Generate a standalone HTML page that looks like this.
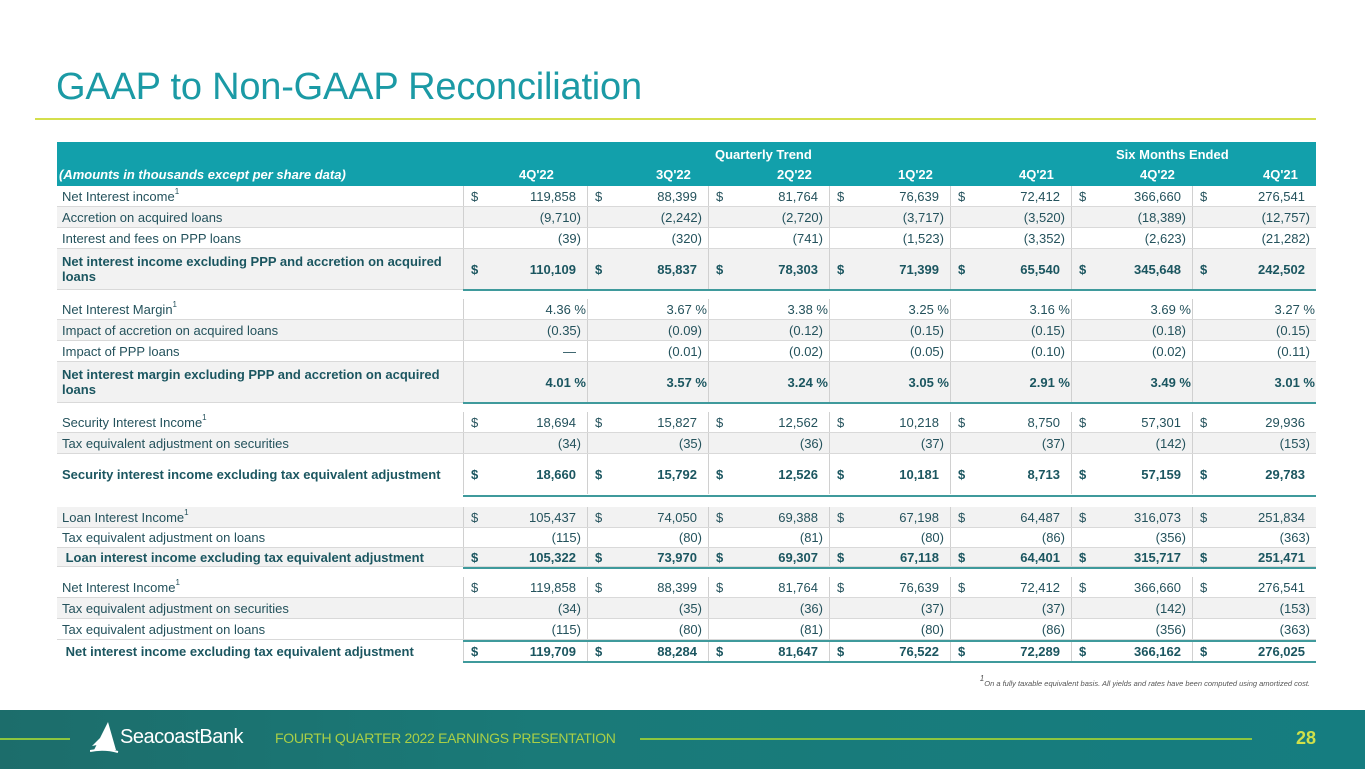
<!DOCTYPE html>
<html><head><meta charset="utf-8"><style>
*{margin:0;padding:0;box-sizing:border-box}
body{width:1365px;height:769px;position:relative;background:#fff;font-family:"Liberation Sans",sans-serif;overflow:hidden;color:#24525c}
.title{position:absolute;left:56px;top:66px;font-size:38px;color:#1b9aa5;letter-spacing:-0.2px}
.yl{position:absolute;left:35px;top:118px;width:1281px;height:2px;background:#d4df4c}
.hdr{position:absolute;left:57px;top:142px;width:1259px;height:44px;background:#12a0ab;color:#fff;font-size:13px;font-weight:bold}
.hdr span{position:absolute}
.row{position:absolute;left:57px;width:1259px;display:grid;grid-template-columns:406px 124px 121px 121px 121px 121px 121px 124px;font-size:13px;border-bottom:1px solid #d9d9d9}
.row>div{display:flex;align-items:center;justify-content:space-between;padding:0 6px 0 7px;border-left:1px solid #d0d0d0;white-space:nowrap}
.row>div:first-child{border-left:none;padding-left:5px;white-space:normal;line-height:15px;display:flex;justify-content:flex-start}
.g{background:#f2f2f2}
.b{font-weight:bold;color:#1b5660}
.p{padding-right:5px}
.row>div.pc{justify-content:flex-end;padding-right:1px}
sup{font-size:8px;vertical-align:top;line-height:0;position:relative;top:3px}
.tl{position:absolute;left:463px;width:853px;height:2px;background:#3f9a9c}
.fn{position:absolute;right:55px;top:679px;font-size:7.5px;font-style:italic;color:#555;white-space:nowrap}
.foot{position:absolute;left:0;top:710px;width:1365px;height:59px;background:linear-gradient(90deg,#1c6d6b,#1a7a78 40%,#157d80)}
.foot .l1{position:absolute;left:0;top:28px;width:70px;height:2px;background:#8dc63f}
.foot .l2{position:absolute;left:640px;top:28px;width:612px;height:2px;background:#8dc63f}
.foot .t{position:absolute;left:275px;top:20px;font-size:14px;color:#a9cf46;letter-spacing:-0.3px}
.foot .n{position:absolute;left:1296px;top:18px;font-size:18px;font-weight:bold;color:#cfe04a}
.foot .lg{position:absolute;left:120px;top:16px;font-size:20px;color:#fff;letter-spacing:-0.5px}
</style></head><body>
<div class="title">GAAP to Non-GAAP Reconciliation</div>
<div class="yl"></div>
<div class="hdr">
<span style="left:658px;top:5px">Quarterly Trend</span>
<span style="left:1059px;top:5px">Six Months Ended</span>
<span style="left:2px;top:25px;font-style:italic">(Amounts in thousands except per share data)</span>
<span style="left:462px;top:25px">4Q'22</span>
<span style="left:599px;top:25px">3Q'22</span>
<span style="left:720px;top:25px">2Q'22</span>
<span style="left:841px;top:25px">1Q'22</span>
<span style="left:962px;top:25px">4Q'21</span>
<span style="left:1083px;top:25px">4Q'22</span>
<span style="left:1206px;top:25px">4Q'21</span>
</div>

<div class="row" style="top:186px;height:21px"><div><span>Net Interest income<sup>1</sup></span></div><div>$<span class="p">119,858</span></div><div>$<span class="p">88,399</span></div><div>$<span class="p">81,764</span></div><div>$<span class="p">76,639</span></div><div>$<span class="p">72,412</span></div><div>$<span class="p">366,660</span></div><div>$<span class="p">276,541</span></div></div>
<div class="row g" style="top:207px;height:21px"><div>Accretion on acquired loans</div><div><i></i>(9,710)</div><div><i></i>(2,242)</div><div><i></i>(2,720)</div><div><i></i>(3,717)</div><div><i></i>(3,520)</div><div><i></i>(18,389)</div><div><i></i>(12,757)</div></div>
<div class="row" style="top:228px;height:21px"><div>Interest and fees on PPP loans</div><div><i></i>(39)</div><div><i></i>(320)</div><div><i></i>(741)</div><div><i></i>(1,523)</div><div><i></i>(3,352)</div><div><i></i>(2,623)</div><div><i></i>(21,282)</div></div>
<div class="row g b" style="top:249px;height:41px"><div>Net interest income excluding PPP and accretion on acquired loans</div><div>$<span class="p">110,109</span></div><div>$<span class="p">85,837</span></div><div>$<span class="p">78,303</span></div><div>$<span class="p">71,399</span></div><div>$<span class="p">65,540</span></div><div>$<span class="p">345,648</span></div><div>$<span class="p">242,502</span></div></div>
<div class="tl" style="top:289px"></div>

<div class="row" style="top:299px;height:21px"><div><span>Net Interest Margin<sup>1</sup></span></div><div class="pc">4.36 %</div><div class="pc">3.67 %</div><div class="pc">3.38 %</div><div class="pc">3.25 %</div><div class="pc">3.16 %</div><div class="pc">3.69 %</div><div class="pc">3.27 %</div></div>
<div class="row g" style="top:320px;height:21px"><div>Impact of accretion on acquired loans</div><div><i></i>(0.35)</div><div><i></i>(0.09)</div><div><i></i>(0.12)</div><div><i></i>(0.15)</div><div><i></i>(0.15)</div><div><i></i>(0.18)</div><div><i></i>(0.15)</div></div>
<div class="row" style="top:341px;height:21px"><div>Impact of PPP loans</div><div><i></i><span class="p">—</span></div><div><i></i>(0.01)</div><div><i></i>(0.02)</div><div><i></i>(0.05)</div><div><i></i>(0.10)</div><div><i></i>(0.02)</div><div><i></i>(0.11)</div></div>
<div class="row g b" style="top:362px;height:41px"><div>Net interest margin excluding PPP and accretion on acquired loans</div><div class="pc">4.01 %</div><div class="pc">3.57 %</div><div class="pc">3.24 %</div><div class="pc">3.05 %</div><div class="pc">2.91 %</div><div class="pc">3.49 %</div><div class="pc">3.01 %</div></div>
<div class="tl" style="top:402px"></div>

<div class="row" style="top:412px;height:21px"><div><span>Security Interest Income<sup>1</sup></span></div><div>$<span class="p">18,694</span></div><div>$<span class="p">15,827</span></div><div>$<span class="p">12,562</span></div><div>$<span class="p">10,218</span></div><div>$<span class="p">8,750</span></div><div>$<span class="p">57,301</span></div><div>$<span class="p">29,936</span></div></div>
<div class="row g" style="top:433px;height:21px"><div>Tax equivalent adjustment on securities</div><div><i></i>(34)</div><div><i></i>(35)</div><div><i></i>(36)</div><div><i></i>(37)</div><div><i></i>(37)</div><div><i></i>(142)</div><div><i></i>(153)</div></div>
<div class="row b" style="top:454px;height:40px;border-bottom:none"><div>Security interest income excluding tax equivalent adjustment</div><div>$<span class="p">18,660</span></div><div>$<span class="p">15,792</span></div><div>$<span class="p">12,526</span></div><div>$<span class="p">10,181</span></div><div>$<span class="p">8,713</span></div><div>$<span class="p">57,159</span></div><div>$<span class="p">29,783</span></div></div>
<div class="tl" style="top:495px"></div>

<div class="row g" style="top:507px;height:21px"><div><span>Loan Interest Income<sup>1</sup></span></div><div>$<span class="p">105,437</span></div><div>$<span class="p">74,050</span></div><div>$<span class="p">69,388</span></div><div>$<span class="p">67,198</span></div><div>$<span class="p">64,487</span></div><div>$<span class="p">316,073</span></div><div>$<span class="p">251,834</span></div></div>
<div class="row" style="top:528px;height:20px"><div>Tax equivalent adjustment on loans</div><div><i></i>(115)</div><div><i></i>(80)</div><div><i></i>(81)</div><div><i></i>(80)</div><div><i></i>(86)</div><div><i></i>(356)</div><div><i></i>(363)</div></div>
<div class="row g b" style="top:548px;height:19px"><div>&nbsp;Loan interest income excluding tax equivalent adjustment</div><div>$<span class="p">105,322</span></div><div>$<span class="p">73,970</span></div><div>$<span class="p">69,307</span></div><div>$<span class="p">67,118</span></div><div>$<span class="p">64,401</span></div><div>$<span class="p">315,717</span></div><div>$<span class="p">251,471</span></div></div>
<div class="tl" style="top:567px"></div>

<div class="row" style="top:577px;height:21px"><div><span>Net Interest Income<sup>1</sup></span></div><div>$<span class="p">119,858</span></div><div>$<span class="p">88,399</span></div><div>$<span class="p">81,764</span></div><div>$<span class="p">76,639</span></div><div>$<span class="p">72,412</span></div><div>$<span class="p">366,660</span></div><div>$<span class="p">276,541</span></div></div>
<div class="row g" style="top:598px;height:21px"><div>Tax equivalent adjustment on securities</div><div><i></i>(34)</div><div><i></i>(35)</div><div><i></i>(36)</div><div><i></i>(37)</div><div><i></i>(37)</div><div><i></i>(142)</div><div><i></i>(153)</div></div>
<div class="row" style="top:619px;height:21px"><div>Tax equivalent adjustment on loans</div><div><i></i>(115)</div><div><i></i>(80)</div><div><i></i>(81)</div><div><i></i>(80)</div><div><i></i>(86)</div><div><i></i>(356)</div><div><i></i>(363)</div></div>
<div class="row b" style="top:641px;height:21px;border-bottom:none"><div>&nbsp;Net interest income excluding tax equivalent adjustment</div><div>$<span class="p">119,709</span></div><div>$<span class="p">88,284</span></div><div>$<span class="p">81,647</span></div><div>$<span class="p">76,522</span></div><div>$<span class="p">72,289</span></div><div>$<span class="p">366,162</span></div><div>$<span class="p">276,025</span></div></div>
<div class="tl" style="top:640px"></div>
<div class="tl" style="top:661px"></div>

<div class="fn"><sup style="top:0">1</sup>On a fully taxable equivalent basis. All yields and rates have been computed using amortized cost.</div>

<div class="foot">
<div class="l1"></div>
<svg style="position:absolute;left:90px;top:12px" width="30" height="32" viewBox="0 0 30 32"><path d="M18 0 L4 28 L26 28 Z M10 16 L2 24 L12 22 Z" fill="#fff"/><path d="M0 29 Q14 26 28 30" stroke="#fff" stroke-width="2" fill="none"/></svg>
<div class="lg">SeacoastBank</div>
<div class="t">FOURTH QUARTER 2022 EARNINGS PRESENTATION</div>
<div class="l2"></div>
<div class="n">28</div>
</div>
</body></html>
